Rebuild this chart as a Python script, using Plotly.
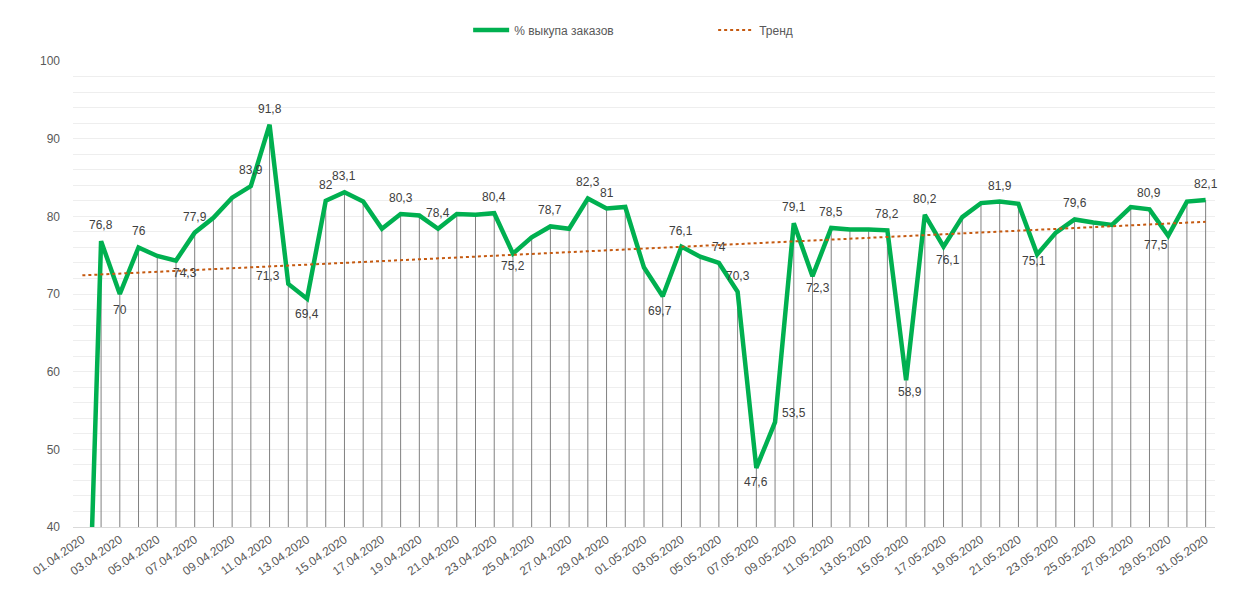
import pandas as pd
import plotly.graph_objects as go

# ---------------- data ----------------
dates = [d.strftime("%d.%m.%Y") for d in pd.date_range("2020-04-01", "2020-05-31", freq="D")]

buyout_pct = [
    0.0, 76.8, 70.0, 76.0, 74.9, 74.3, 77.9, 79.8, 82.4, 83.9,
    91.8, 71.3, 69.4, 82.0, 83.1, 81.9, 78.4, 80.3, 80.1, 78.4,
    80.3, 80.2, 80.4, 75.2, 77.3, 78.7, 78.4, 82.3, 81.0, 81.2,
    73.4, 69.7, 76.1, 74.8, 74.0, 70.3, 47.6, 53.5, 79.1, 72.3,
    78.5, 78.3, 78.3, 78.2, 58.9, 80.2, 76.1, 79.9, 81.7, 81.9,
    81.6, 75.1, 77.9, 79.6, 79.2, 78.9, 81.2, 80.9, 77.5, 81.9,
    82.1,
]

# points carrying a data label
labeled_dates = [
    "02.04.2020", "03.04.2020", "04.04.2020", "06.04.2020", "07.04.2020",
    "10.04.2020", "11.04.2020", "12.04.2020", "13.04.2020", "14.04.2020",
    "15.04.2020", "18.04.2020", "20.04.2020", "23.04.2020", "24.04.2020",
    "26.04.2020", "28.04.2020", "29.04.2020", "02.05.2020", "03.05.2020",
    "05.05.2020", "06.05.2020", "07.05.2020", "08.05.2020", "09.05.2020",
    "10.05.2020", "11.05.2020", "14.05.2020", "15.05.2020", "16.05.2020",
    "17.05.2020", "20.05.2020", "22.05.2020", "24.05.2020", "28.05.2020",
    "29.05.2020", "31.05.2020",
]

# linear trend end values
trend_start = 72.4
trend_end = 79.3

y_min, y_max = 40, 100
tick_labels = dates[::2]

series_name = "% выкупа заказов"
trend_name = "Тренд"

# ---------------- style ----------------
GREEN = "#00B050"
TREND = "#C55A11"
DROP = "#808080"
GRID = "#EEEEEE"
TXT = "#595959"
LBL = "#404040"
FONT = "Liberation Sans, Arial, sans-serif"

# label offsets (xshift, yshift) in px; default = above
label_shift = {
    "03.04.2020": (0, -16), "06.04.2020": (9, -12), "12.04.2020": (-20, 8),
    "13.04.2020": (0, -15), "24.04.2020": (0, -12), "02.05.2020": (-3, -15),
    "07.05.2020": (0, -14), "08.05.2020": (19, 9), "10.05.2020": (6, -12),
    "15.05.2020": (4, -12), "17.05.2020": (4, -13), "22.05.2020": (-3, -7),
    "29.05.2020": (-12, -9),
}

fig = go.Figure()

# drop lines
dx, dy = [], []
for d, v in zip(dates, buyout_pct):
    dx += [d, d, None]
    dy += [y_min, v, None]
fig.add_trace(go.Scatter(x=dx, y=dy, mode="lines", line=dict(color=DROP, width=1),
                         showlegend=False, hoverinfo="skip"))

fig.add_trace(go.Scatter(x=dates, y=buyout_pct, mode="lines", name=series_name,
                         line=dict(color=GREEN, width=4.5)))

fig.add_trace(go.Scatter(x=[dates[0], dates[-1]], y=[trend_start, trend_end], mode="lines",
                         name=trend_name, line=dict(color=TREND, width=2, dash="dot")))

val_by_date = dict(zip(dates, buyout_pct))
for d in labeled_dates:
    v = val_by_date[d]
    xs, ys = label_shift.get(d, (0, 16))
    txt = (f"{v:.1f}".rstrip("0").rstrip(".")).replace(".", ",")
    fig.add_annotation(x=d, y=v, text=txt, showarrow=False, xshift=xs, yshift=ys,
                       font=dict(family=FONT, size=12, color=LBL))

fig.update_layout(
    width=1247, height=596,
    margin=dict(l=65, r=40, t=53, b=77, autoexpand=False),
    paper_bgcolor="white", plot_bgcolor="white",
    font=dict(family=FONT, size=12, color=TXT),
    showlegend=True,
    legend=dict(orientation="h", xref="container", yref="container",
                x=0.369, xanchor="left", y=0.963, yanchor="middle",
                entrywidth=194, itemwidth=36, font=dict(size=12, color=TXT)),
    hovermode=False,
)
fig.update_xaxes(type="category", range=[-0.5, len(dates) - 0.5], automargin=False,
                 tickmode="array", tickvals=tick_labels, ticktext=tick_labels,
                 tickangle=-35, showgrid=False, showline=True, linecolor="#D9D9D9",
                 ticks="", tickfont=dict(size=12, color=TXT))
fig.update_yaxes(range=[y_min, y_max], dtick=10, showgrid=True, gridcolor=GRID,
                 minor=dict(dtick=2, showgrid=True, gridcolor=GRID), automargin=False,
                 zeroline=False, showline=False, ticklabelstandoff=12,
                 tickfont=dict(size=12, color=TXT))

fig.write_html("out.html")
